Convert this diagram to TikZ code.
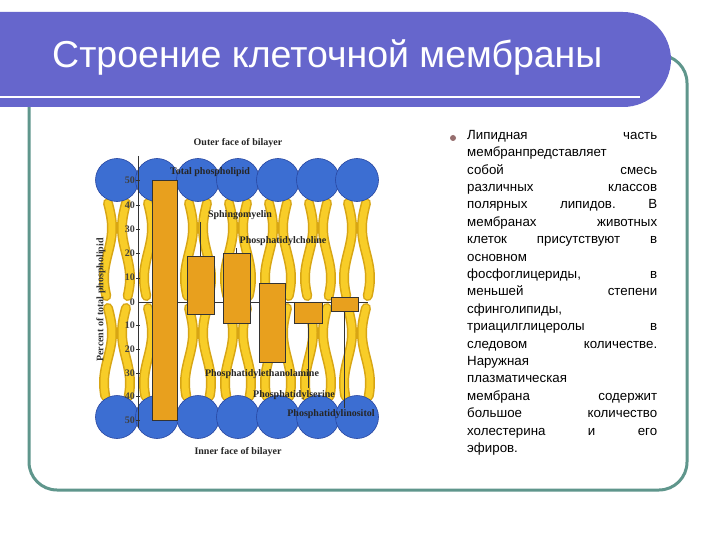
\documentclass[tikz,border=0pt]{standalone}
\usepackage{fontspec}
\setmainfont{Liberation Sans}
\newfontfamily\chartfont{Liberation Serif}
\begin{document}
\begin{tikzpicture}[x=1pt,y=-1pt,
  head/.style={circle,fill=headblue,draw=headedge,line width=0.6pt,minimum size=43pt,inner sep=0pt},
  bar/.style={fill=barorange,draw=black!80,line width=0.8pt},
  lab/.style={font=\chartfont\bfseries\fontsize{10}{11}\selectfont,text=black!85,inner sep=1pt},
  ax/.style={font=\chartfont\bfseries\fontsize{10}{11}\selectfont,text=black!75,anchor=east,inner sep=1pt},
  tail/.style={draw=tailedge,line width=10pt,line cap=round},
  tailin/.style={draw=tailyellow,line width=7pt,line cap=round},
  body/.style={font=\fontsize{13.3}{17.4}\selectfont,anchor=north west,inner sep=0pt,text width=190pt}]
\definecolor{banner}{RGB}{102,102,204}
\definecolor{frame}{RGB}{95,150,140}
\definecolor{headblue}{RGB}{60,110,210}
\definecolor{headedge}{RGB}{40,70,160}
\definecolor{barorange}{RGB}{232,160,30}
\definecolor{tailyellow}{RGB}{248,205,40}
\definecolor{tailedge}{RGB}{215,165,20}
\definecolor{bullet}{RGB}{150,110,110}
\useasboundingbox (0,0) rectangle (720,540);
\fill[white] (0,0) rectangle (720,540);
% frame
\draw[frame,line width=3pt,rounded corners=28pt] (29,55) rectangle (687,490);
% banner
\fill[banner,rounded corners=48pt] (-60,12) rectangle (671,107);
\fill[banner] (-60,12) rectangle (400,107);
\draw[white,line width=2pt] (0,97) -- (640,97);
\node[anchor=west,text=white,font=\fontsize{37.5}{40}\selectfont,inner sep=0pt] (title) at (52,57) {Строение клеточной мембраны};
% tails
\foreach \cx in {117,157,198,238,278,318,357}{
  \foreach \dx/\ph in {-9/0,9/180}{
    \draw[tail] plot[domain=203:296,samples=30,smooth] ({\cx+\dx+4*sin(3.6*(\x-203)+\ph)},\x);
    \draw[tailin] plot[domain=203:296,samples=30,smooth] ({\cx+\dx+4*sin(3.6*(\x-203)+\ph)},\x);
    \draw[tail] plot[domain=308:396,samples=30,smooth] ({\cx+\dx+4*sin(3.6*(\x-308)+\ph)},\x);
    \draw[tailin] plot[domain=308:396,samples=30,smooth] ({\cx+\dx+4*sin(3.6*(\x-308)+\ph)},\x);
  }
}
% heads
\foreach \cx [count=\i] in {117,157,198,238,278,318,357}{
  \node[head] (u\i) at (\cx,180) {};
  \node[head] (d\i) at (\cx,417) {};
}
% axes
\draw[black!80,line width=0.6pt] (138,156) -- (138,428);
\draw[black!80,line width=0.6pt] (138,302) -- (368,302);
\foreach \v in {10,20,30,40,50}{
  \node[ax] at (136,{302-2.43*\v}) {\v};
  \node[ax] at (136,{302+2.36*\v}) {\v};
  \draw[black!80] (136,{302-2.43*\v}) -- (140,{302-2.43*\v});
  \draw[black!80] (136,{302+2.36*\v}) -- (140,{302+2.36*\v});
}
\node[ax] at (136,302) {0};
\node[font=\chartfont\bfseries\fontsize{10}{11}\selectfont,rotate=90,text=black!80] (ylab) at (101,300) {Percent of total phospholipid};
% bars
\draw[bar] (152,180) rectangle (177,420);
\draw[bar] (187,256) rectangle (214,314);
\draw[bar] (223,253) rectangle (250,323);
\draw[bar] (259,283) rectangle (285,362);
\draw[bar] (294,302) rectangle (322,323);
\draw[bar] (331,297) rectangle (358,311);
% labels
\node[lab] (outer) at (238,143) {Outer face of bilayer};
\node[lab] (inner) at (238,452) {Inner face of bilayer};
\node[lab] (ltot) at (210,172) {Total phospholipid};
\node[lab] (lsph) at (240,215) {Sphingomyelin};
\node[lab] (lpc) at (283,241) {Phosphatidylcholine};
\node[lab] (lpe) at (262,374) {Phosphatidylethanolamine};
\node[lab] (lps) at (294,395) {Phosphatidylserine};
\node[lab] (lpi) at (331,414) {Phosphatidylinositol};
\draw[black!80,line width=0.5pt] (200,256) -- (200,222);
\draw[black!80,line width=0.5pt] (236,253) -- (236,248);
\draw[black!80,line width=0.5pt] (308,323) -- (308,388);
\draw[black!80,line width=0.5pt] (344,311) -- (344,408);
% text
\node[circle,fill=bullet,minimum size=6pt,inner sep=0pt] (bul) at (453,138) {};
\node[body] (txt) at (467,130) {%
Липидная\hfill часть\\
мембранпредставляет\\
собой\hfill смесь\\
различных\hfill классов\\
полярных\hfill липидов.\hfill В\\
мембранах\hfill животных\\
клеток\hfill присутствуют\hfill в\\
основном\\
фосфоглицериды,\hfill в\\
меньшей\hfill степени\\
сфинголипиды,\\
триацилглицеролы\hfill в\\
следовом\hfill количестве.\\
Наружная\\
плазматическая\\
мембрана\hfill содержит\\
большое\hfill количество\\
холестерина\hfill и\hfill его\\
эфиров.};
\end{tikzpicture}
\end{document}
